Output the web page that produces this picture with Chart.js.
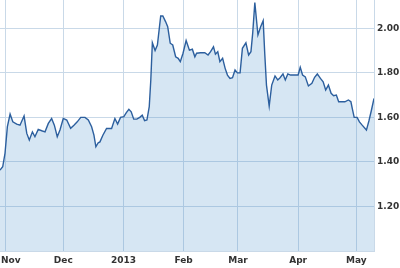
<!DOCTYPE html>
<html>
<head>
<meta charset="utf-8">
<script src="https://cdn.jsdelivr.net/npm/chart.js@4/dist/chart.umd.min.js"></script>
<style>
  body { margin: 0; background: #fff; }
  #wrap { width: 400px; height: 268px; }
</style>
</head>
<body>
<div id="wrap"><canvas id="koersGrafiek"></canvas></div>
<script>
// dagen sinds 1 nov 2012
const dagen = [
    -2.6, -1.2, 0, 1.2, 2.6, 4.0, 6.0, 7.7, 9.8, 11.2, 12.5, 14.1, 15.4, 17.1, 18.9, 20.6,
    22.3, 24.0, 25.4, 26.9, 28.3, 30.0, 31.8, 33.8, 35.5, 37.2, 39.0, 41.2, 42.9, 44.6,
    45.8, 46.8, 48.0, 48.9, 50.4, 52.3, 54.9, 56.6, 58.0, 59.5, 61.2, 62.5, 63.8, 65.0,
    66.3, 67.9, 69.4, 70.7, 71.9, 73.1, 74.3, 75.1, 75.9, 77.3, 78.5, 80.2, 81.3, 82.7,
    83.8, 85.1, 86.4, 87.9, 89.2, 90.3, 91.7, 93.3, 95.0, 96.5, 97.8, 98.7, 100.7, 102.9,
    104.6, 105.9, 107.4, 108.4, 109.6, 110.7, 112.1, 113.4, 114.6, 115.9, 117.2, 118.5,
    119.7, 121.1, 122.3, 124.1, 125.5, 126.7, 127.6, 128.7, 130.3, 131.7, 133.0, 133.8,
    134.7, 136.1, 137.4, 139.1, 140.5, 141.7, 143.2, 144.4, 145.7, 147.1, 148.9, 151.0,
    152.1, 153.3, 154.7, 156.3, 158.1, 159.5, 160.9, 162.5, 163.9, 165.2, 166.6, 168.0,
    169.3, 170.7, 171.9, 173.4, 175.1, 176.9, 178.2, 179.0, 179.9, 181.4, 182.6, 184.0,
    186.2, 187.5, 188.8, 190.1
];
const koersen = [
    1.363, 1.378, 1.44, 1.558, 1.615, 1.58, 1.57, 1.565, 1.606, 1.528, 1.498, 1.535, 1.513, 1.546, 1.54, 1.535,
    1.573, 1.595, 1.565, 1.513, 1.543, 1.595, 1.588, 1.551, 1.565, 1.58, 1.60, 1.60, 1.588, 1.558,
    1.52, 1.468, 1.486, 1.49, 1.52, 1.55, 1.55, 1.595, 1.57, 1.60, 1.603, 1.621, 1.636, 1.625,
    1.592, 1.592, 1.60, 1.61, 1.585, 1.588, 1.648, 1.768, 1.935, 1.90, 1.925, 2.055, 2.055, 2.03,
    2.007, 1.933, 1.925, 1.872, 1.865, 1.85, 1.888, 1.945, 1.902, 1.906, 1.872, 1.888, 1.89, 1.89,
    1.88, 1.895, 1.917, 1.884, 1.895, 1.85, 1.865, 1.82, 1.79, 1.775, 1.778, 1.813,
    1.80, 1.80, 1.91, 1.935, 1.88, 1.895, 1.978, 2.115, 1.97, 2.007, 2.034, 1.888,
    1.745, 1.651, 1.745, 1.786, 1.768, 1.778, 1.795, 1.768, 1.795, 1.79, 1.79, 1.79,
    1.825, 1.79, 1.782, 1.741, 1.753, 1.78, 1.795, 1.775, 1.76, 1.723, 1.745, 1.708,
    1.697, 1.70, 1.67, 1.67, 1.67, 1.678, 1.67, 1.636, 1.60, 1.60, 1.58, 1.565,
    1.543, 1.585, 1.633, 1.685
];

const maandDagen = [0, 30, 61, 92, 120, 151, 181];
const maandLabels = ['Nov', 'Dec', '2013', 'Feb', 'Mar', 'Apr', 'May'];
const prijsTicks = [1.2, 1.4, 1.6, 1.8, 2.0];

const rasterKleur = '#c9d9e8';

Chart.defaults.font.family = '"DejaVu Sans", Verdana, sans-serif';
Chart.defaults.font.size = 9;
Chart.defaults.font.weight = 'bold';
Chart.defaults.color = '#333';

const punten = dagen.map((d, i) => ({ x: d, y: koersen[i] }));

function geenPadding(scale) {
    scale.paddingLeft = 0;
    scale.paddingRight = 0;
    scale.paddingTop = 0;
    scale.paddingBottom = 0;
}

// eerste maandlabel links uitlijnen zodat het niet wegvalt
const eersteLabelPlugin = {
    id: 'eersteLabel',
    beforeDraw(chart) {
        const items = chart.scales.x.getLabelItems();
        if (items.length) {
            items[0].options.textAlign = 'left';
            items[0].options.translation[0] = Math.max(chart.chartArea.left + 1, items[0].options.translation[0] - 9);
        }
    }
};

new Chart(document.getElementById('koersGrafiek'), {
    type: 'line',
    data: {
        datasets: [{
            data: punten,
            borderColor: '#2c5f9e',
            borderWidth: 1.4,
            backgroundColor: 'rgba(70,140,200,0.22)',
            fill: 'start',
            tension: 0,
            pointRadius: 0
        }]
    },
    plugins: [eersteLabelPlugin],
    options: {
        responsive: true,
        maintainAspectRatio: false,
        animation: false,
        layout: { padding: 0, autoPadding: false },
        plugins: {
            legend: { display: false },
            tooltip: { enabled: false }
        },
        scales: {
            x: {
                type: 'linear',
                min: -2.6,
                max: 190.1,
                afterBuildTicks: scale => {
                    scale.ticks = maandDagen.map(v => ({ value: v }));
                },
                afterFit: scale => {
                    scale.height = 17;
                    geenPadding(scale);
                },
                ticks: {
                    padding: 4,
                    maxRotation: 0,
                    autoSkip: false,
                    callback: value => maandLabels[maandDagen.indexOf(value)]
                },
                grid: { color: rasterKleur, drawTicks: false },
                border: { color: rasterKleur }
            },
            y: {
                position: 'right',
                min: 1.0,
                max: 2.127,
                afterBuildTicks: scale => {
                    scale.ticks = prijsTicks.map(v => ({ value: v }));
                },
                afterFit: scale => {
                    scale.width = 26;
                    geenPadding(scale);
                },
                ticks: {
                    padding: 3,
                    callback: value => value.toFixed(2)
                },
                grid: { color: rasterKleur, drawTicks: false },
                border: { color: rasterKleur }
            }
        }
    }
});
</script>
</body>
</html>
